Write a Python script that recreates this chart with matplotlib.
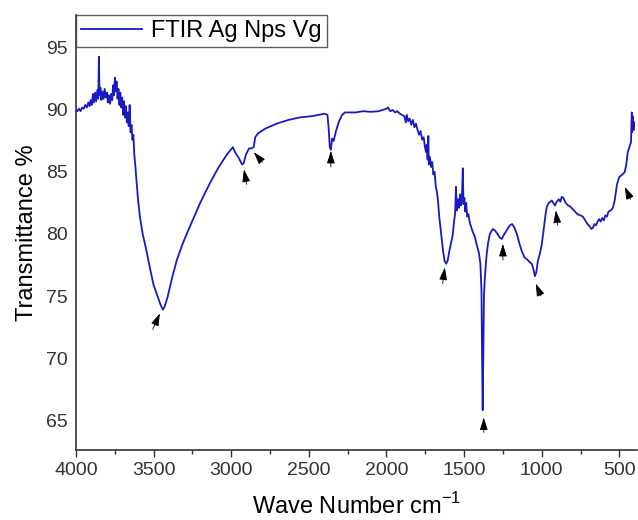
import matplotlib
matplotlib.use("Agg")
import matplotlib.pyplot as plt
from matplotlib.ticker import MultipleLocator

# ---------------------------------------------------------------------------
# FTIR spectrum, values
# ---------------------------------------------------------------------------
wavenumber = [
    4000, 3990, 3980, 3970, 3960, 3950, 3940, 3930, 3920, 3912, 3905, 3898,
    3890, 3884, 3876, 3870, 3862, 3856, 3852, 3848, 3842, 3836, 3830, 3822,
    3815, 3808, 3800, 3794, 3788, 3780, 3772, 3766, 3760, 3754, 3749, 3744,
    3738, 3732, 3726, 3720, 3714, 3708, 3702, 3696, 3690, 3684, 3678, 3672,
    3666, 3660, 3654, 3648, 3642, 3636, 3630, 3624, 3618, 3610, 3600, 3588,
    3570, 3550, 3524, 3500, 3472, 3455, 3440, 3430, 3410, 3380, 3350, 3310,
    3266, 3200, 3137, 3080, 3028, 2989, 2975, 2950, 2930, 2920, 2905, 2885,
    2870, 2855, 2845, 2828, 2780, 2706, 2630, 2558, 2480, 2397, 2380, 2372,
    2365, 2358, 2350, 2340, 2325, 2305, 2285, 2268, 2200, 2150, 2100, 2050,
    2000, 1990, 1975, 1960, 1945, 1930, 1914, 1900, 1885, 1875, 1869, 1860,
    1850, 1840, 1830, 1820, 1810, 1800, 1790, 1780, 1770, 1760, 1752, 1745,
    1740, 1735, 1730, 1727, 1720, 1712, 1705, 1698, 1690, 1682, 1675, 1668,
    1660, 1650, 1643, 1635, 1625, 1615, 1605, 1595, 1585, 1572, 1565, 1558,
    1552, 1547, 1540, 1533, 1526, 1520, 1514, 1508, 1504, 1498, 1492, 1486,
    1480, 1472, 1463, 1455, 1445, 1431, 1420, 1405, 1395, 1388, 1384, 1380,
    1376, 1372, 1366, 1355, 1345, 1334, 1315, 1302, 1285, 1270, 1257, 1245,
    1225, 1205, 1190, 1175, 1160, 1145, 1128, 1110, 1090, 1075, 1064, 1052,
    1044, 1035, 1025, 1010, 999, 985, 975, 967, 955, 945, 935, 925,
    915, 903, 890, 880, 871, 860, 845, 830, 815, 800, 785, 770,
    750, 735, 720, 705, 690, 680, 671, 660, 650, 640, 630, 620,
    610, 600, 590, 580, 570, 555, 542, 530, 515, 500, 480, 465,
    455, 446, 435, 425, 420, 417, 413, 408, 404,
]
transmittance = [
    90.0, 89.9, 90.1, 89.9, 90.2, 90.1, 90.4, 90.2, 90.6, 90.3, 90.8, 90.4,
    91.3, 90.6, 91.4, 90.7, 91.6, 90.9, 94.3, 91.2, 91.8, 90.8, 91.5, 90.9,
    91.7, 91.0, 91.4, 90.6, 91.2, 90.5, 91.3, 90.8, 92.0, 91.2, 92.6, 91.5,
    92.3, 90.9, 91.7, 90.4, 91.4, 90.2, 91.0, 89.6, 90.7, 89.4, 90.3, 89.0,
    89.8, 88.7, 90.4, 88.2, 88.8, 87.6, 88.0, 86.4, 85.6, 84.3, 82.8, 81.4,
    80.0, 78.9, 77.3, 75.9, 74.9, 74.3, 73.9, 74.1, 74.9, 76.5, 77.9, 79.3,
    80.6, 82.5, 84.1, 85.4, 86.4, 87.0, 86.6, 86.1, 85.6, 85.7, 86.4, 86.9,
    86.9, 87.0, 87.8, 88.1, 88.5, 88.9, 89.2, 89.4, 89.5, 89.7, 89.6, 88.5,
    87.0, 86.8, 87.7, 87.5, 88.3, 89.1, 89.6, 89.8, 89.8, 89.9, 89.85, 89.9,
    90.1, 90.2, 89.9, 90.0, 89.8, 89.9, 89.7, 89.6, 89.5, 89.0, 89.6, 89.1,
    89.3, 88.8, 89.2, 88.6, 88.9, 88.4, 88.0, 88.3, 87.6, 87.8, 87.0, 86.6,
    87.2, 86.0, 87.9, 85.6, 86.2, 85.4, 85.8, 84.8, 85.0, 83.8, 83.4, 82.7,
    81.4, 80.3, 79.5, 78.6, 77.8, 77.6, 77.9, 78.6, 79.2, 80.0, 81.0, 81.6,
    83.8, 81.9, 82.8, 82.1, 83.2, 82.3, 83.0, 85.3, 82.4, 82.9, 81.8, 82.5,
    81.4, 81.6, 80.9, 80.6, 80.2, 79.8, 79.2, 78.5, 77.6, 75.5, 70.0, 65.8,
    70.5, 75.0, 76.5, 78.3, 79.3, 80.0, 80.4, 80.3, 80.0, 79.7, 79.6, 79.9,
    80.3, 80.7, 80.8, 80.5, 80.0, 79.3, 78.6, 78.1, 77.9, 77.7, 77.6, 77.1,
    76.6, 76.9, 77.8, 78.5, 79.2, 80.6, 81.6, 82.2, 82.5, 82.6, 82.7, 82.5,
    82.3, 82.6, 82.8, 82.6, 83.0, 82.9, 82.5, 82.3, 82.2, 82.0, 81.8, 81.6,
    81.5, 81.4, 81.1, 80.8, 80.6, 80.4, 80.5, 80.8, 80.7, 81.0, 81.2, 81.0,
    81.3, 81.1, 81.5, 81.4, 81.8, 81.9, 82.1, 82.7, 84.0, 84.6, 84.8, 85.0,
    85.6, 86.6, 87.0, 87.4, 89.8, 88.2, 89.5, 88.4, 89.0,
]

# peak markers (tip = where the arrow points, tail = start of the arrow)
arrow_tip_x = [3459, 2918, 2854, 2358, 1624, 1373, 1250, 1038, 909, 465]
arrow_tip_y = [73.6, 85.2, 86.6, 86.7, 77.3, 65.2, 79.2, 76.0, 81.9, 83.8]
arrow_tail_x = [3505, 2900, 2800, 2358, 1638, 1373, 1250, 1005, 898, 428]
arrow_tail_y = [72.3, 84.0, 85.8, 85.4, 76.0, 64.0, 77.9, 75.0, 80.7, 82.8]

plt.rcParams["font.family"] = ["Liberation Sans", "DejaVu Sans"]

fig = plt.figure(figsize=(6.38, 5.2), dpi=100)
ax = fig.add_axes([0.119, 0.135, 0.879, 0.836])

ax.plot(wavenumber, transmittance, color="#1a1ac0", lw=1.3, label="FTIR Ag Nps Vg")

for tx, ty, sx, sy in zip(arrow_tip_x, arrow_tip_y, arrow_tail_x, arrow_tail_y):
    ax.annotate("", xy=(tx, ty), xytext=(sx, sy),
                arrowprops=dict(arrowstyle="-|>,head_length=0.7,head_width=0.22",
                                color="black", lw=0.6, mutation_scale=11,
                                shrinkA=0, shrinkB=0))

ax.set_xlim(4000, 388)
ax.set_ylim(62.6, 97.65)
ax.xaxis.set_major_locator(MultipleLocator(500))
ax.xaxis.set_minor_locator(MultipleLocator(250))
ax.yaxis.set_major_locator(MultipleLocator(5))

for side in ("top", "right"):
    ax.spines[side].set_visible(False)
for side in ("left", "bottom"):
    ax.spines[side].set_color("#333333")
    ax.spines[side].set_linewidth(1.2)

ax.tick_params(axis="x", which="major", direction="out", length=5, width=1,
               colors="#333333", labelsize=14, pad=4)
ax.tick_params(axis="x", which="minor", direction="out", length=3, width=1,
               colors="#333333")
ax.tick_params(axis="y", length=0, labelsize=14, labelcolor="#333333", pad=6)

ax.set_xlabel("Wave Number cm$^{\\mathregular{-1}}$", fontsize=17, labelpad=10)
ax.set_ylabel("Transmittance %", fontsize=17, labelpad=6)

leg = ax.legend(loc="upper left", fontsize=17, frameon=True, fancybox=False,
                borderaxespad=0, handlelength=2.6, borderpad=0.2,
                handletextpad=0.4)
leg.get_frame().set_edgecolor("#333333")
leg.get_frame().set_linewidth(1.0)

fig.savefig("out.png", dpi=100)
